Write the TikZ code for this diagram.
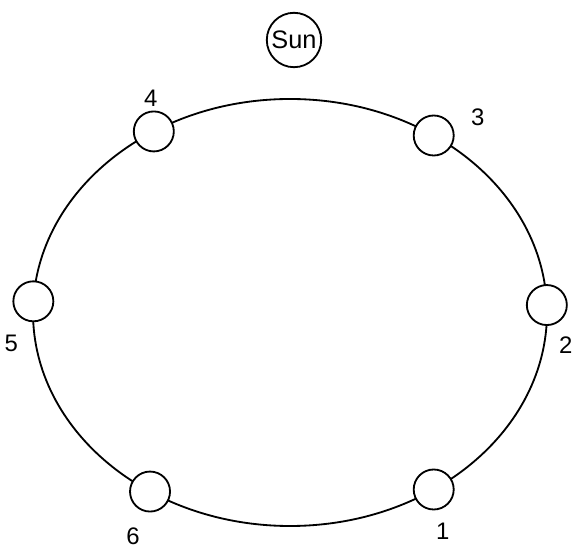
\documentclass[tikz,border=0pt]{standalone}
\usepackage{fontspec}
\setmainfont{Liberation Sans}
\usepackage{tikz}
\usetikzlibrary{calc,positioning}

\begin{document}
\begin{tikzpicture}[x=0.025cm, y=0.025cm, line width=1.3pt,
  planet/.style={circle, draw, fill=white, inner sep=0pt, minimum size=1.0cm},
  sunbody/.style={circle, draw, fill=white, inner sep=0pt, minimum size=1.36cm, font=\fontsize{18}{20}\selectfont},
  num/.style={inner sep=0pt, font=\fontsize{17}{19}\selectfont}]
\useasboundingbox (0,0) rectangle (574,553);
\coordinate (O) at (290,240.5);
\draw (O) ellipse [x radius=257, y radius=213.5];
% planets on the orbit
\node[planet] (p1) at ($(O)+(304:257 and 213.5)$) {};
\node[planet] (p2) at ($(O)+(2:257 and 213.5)$) {};
\node[planet] (p3) at ($(O)+(56:257 and 213.5)$) {};
\node[planet] (p4) at ($(O)+(122:257 and 213.5)$) {};
\node[planet] (p5) at ($(O)+(177:257 and 213.5)$) {};
\node[planet] (p6) at ($(O)+(237:257 and 213.5)$) {};
% labels
\node[num] (n1) at ($(p1)+(9,-42)$) {1};
\node[num] (n2) at ($(p2)+(19,-40)$) {2};
\node[num] (n3) at ($(p3)+(44,18)$) {3};
\node[num] (n4) at ($(p4)+(-3,33)$) {4};
\node[num] (n5) at ($(p5)+(-22,-42)$) {5};
\node[num] (n6) at ($(p6)+(-17,-45)$) {6};
\node[sunbody] (sun) at (294,513) {Sun};
\end{tikzpicture}
\end{document}
